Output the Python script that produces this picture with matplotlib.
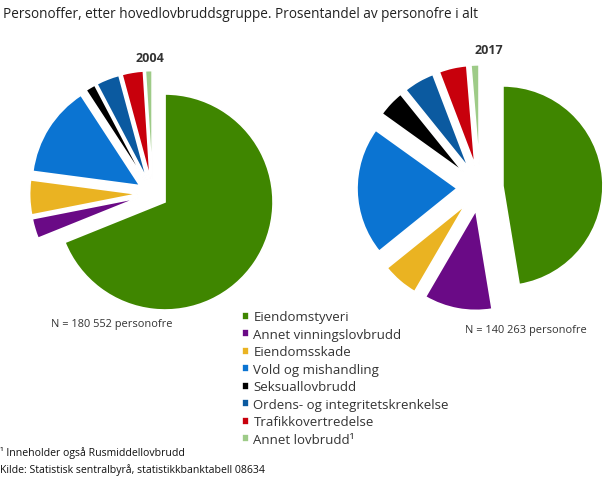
import matplotlib
matplotlib.use("Agg")
import matplotlib.pyplot as plt

plt.rcParams['font.family'] = ['Open Sans', 'DejaVu Sans']

categories = ["Eiendomstyveri", "Annet vinningslovbrudd", "Eiendomsskade",
              "Vold og mishandling", "Seksuallovbrudd",
              "Ordens- og integritetskrenkelse", "Trafikkovertredelse",
              "Annet lovbrudd¹"]
values_2004 = [68.9, 3.0, 5.2, 13.7, 1.5, 3.5, 3.2, 1.0]
values_2017 = [47.4, 11.0, 5.8, 20.7, 4.3, 5.0, 4.5, 1.3]
colors = ["#3f8600", "#6a0a86", "#eab322", "#0b74d2", "#000000",
          "#0b5aa0", "#c8000c", "#9ecb88"]
years = ["2004", "2017"]
n_labels = ["N = 180 552 personofre", "N = 140 263 personofre"]

W, H = 610, 481
fig = plt.figure(figsize=(W / 100, H / 100), dpi=100)


def px(x, y):
    return (x / W, 1 - y / H)


def pie_axes(cx, cy, r, L=1.35):
    s = 2 * L * r
    ax = fig.add_axes([(cx - s / 2) / W, 1 - (cy + s / 2) / H, s / W, s / H])
    return ax


def finish(ax, L=1.35):
    ax.set_xlim(-L, L)
    ax.set_ylim(-L, L)
    ax.set_aspect('equal')
    ax.axis('off')


ax1 = pie_axes(152.6, 194.6, 108)
wedges, _ = ax1.pie(values_2004, colors=colors, startangle=90, counterclock=False,
                    explode=[15 / 108] * len(values_2004),
                    wedgeprops=dict(edgecolor='white', linewidth=1.2))
finish(ax1)

ax2 = pie_axes(480, 188.8, 100)
ax2.pie(values_2017, colors=colors, startangle=90, counterclock=False,
        explode=[23 / 100] * len(values_2017),
        wedgeprops=dict(edgecolor='white', linewidth=1.2))
finish(ax2)

fig.text(*px(3, 15), "Personoffer, etter hovedlovbruddsgruppe. Prosentandel av personofre i alt",
         fontsize=9.8, color='#222222', va='center', ha='left')
fig.text(*px(150, 58), years[0], fontsize=9, fontweight='bold', color='#333333',
         ha='center', va='center')
fig.text(*px(489, 50), years[1], fontsize=9, fontweight='bold', color='#333333',
         ha='center', va='center')
fig.text(*px(112, 325), n_labels[0], fontsize=7.9, color='#333333', ha='center', va='center')
fig.text(*px(526, 330), n_labels[1], fontsize=7.9, color='#333333', ha='center', va='center')

leg = fig.legend(wedges, categories, loc='upper left', bbox_to_anchor=px(242, 311.5),
                 frameon=False, fontsize=9.5, handlelength=0.52, handleheight=0.52,
                 handletextpad=0.35, labelspacing=0.34, borderaxespad=0, borderpad=0,
                 labelcolor='#333333')

fig.text(*px(0, 453), "¹ Inneholder også Rusmiddellovbrudd", fontsize=7.6,
         color='#111111', ha='left', va='center')
fig.text(*px(0, 470), "Kilde: Statistisk sentralbyrå, statistikkbanktabell 08634", fontsize=7.6,
         color='#111111', ha='left', va='center')

fig.savefig("out.png", dpi=100)
